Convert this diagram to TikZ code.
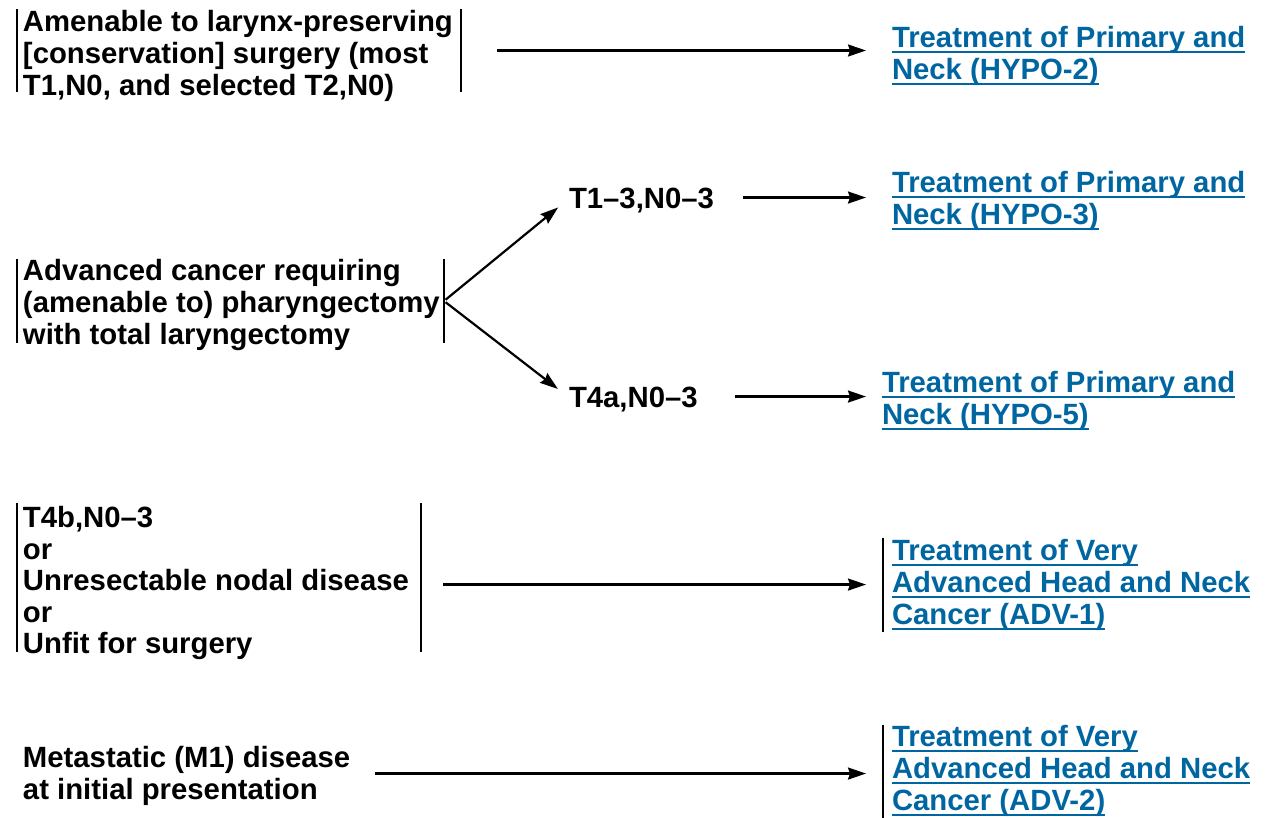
\documentclass[tikz,border=0pt]{standalone}
\usepackage{fontspec}
\setmainfont{Liberation Sans}
\usetikzlibrary{arrows.meta}
\definecolor{linkblue}{RGB}{0,102,161}
\newcommand\mystrut{\rule{0pt}{22pt}}
\newcommand\lnk[1]{\setbox0\hbox{#1}\rlap{\rule[-5.6pt]{\wd0}{1.8pt}}\box0}
\tikzset{
  txt/.style={inner sep=0pt, outer sep=0pt, align=left, anchor=north west, font=\fontsize{29.3}{32}\selectfont\bfseries},
  lab/.style={inner sep=0pt, outer sep=0pt, anchor=base west, font=\fontsize{29.3}{32}\selectfont\bfseries},
  link/.style={txt, text=linkblue},
  brk/.style={inner sep=0pt, outer sep=0pt, anchor=north west},
  bar/.style={line width=2pt},
  arr/.style={line width=2.2pt, -{Stealth[length=18pt,width=12pt,inset=2pt]}},
}
\begin{document}
\begin{tikzpicture}[x=1pt,y=-1pt]
\useasboundingbox (0,0) rectangle (1268,817);

% sources
\node[txt] (x1) at (23,9) {\mystrut Amenable to larynx-preserving\\{[}conservation{]} surgery (most\\T1,N0, and selected T2,N0)};
\node[brk, minimum width=444pt, minimum height=83pt] (s1) at (17,9) {};
\draw[bar] (s1.north west) -- (s1.south west) (s1.north east) -- (s1.south east);

\node[txt] (x2) at (23,258.5) {\mystrut Advanced cancer requiring\\(amenable to) pharyngectomy\\with total laryngectomy};
\node[brk, minimum width=427pt, minimum height=84pt] (s2) at (17,259) {};
\draw[bar] (s2.north west) -- (s2.south west) (s2.north east) -- (s2.south east);

\node[lab] (m1) at (569,208.5) {T1–3,N0–3};
\node[lab] (m2) at (569,407.5) {T4a,N0–3};

\node[txt, font=\fontsize{29.3}{31.5}\selectfont\bfseries] (x3) at (23,505.5) {\mystrut T4b,N0–3\\or\\Unresectable nodal disease\\or\\Unfit for surgery};
\node[brk, minimum width=404pt, minimum height=149pt] (s3) at (17,503) {};
\draw[bar] (s3.north west) -- (s3.south west) (s3.north east) -- (s3.south east);

\node[txt] (x4) at (23,745.5) {\mystrut Metastatic (M1) disease\\at initial presentation};

% targets
\node[link] (t1) at (892,25.5) {\mystrut\lnk{Treatment of Primary and}\\\lnk{Neck (HYPO-2)}};
\node[link] (t2) at (892,170.5) {\mystrut\lnk{Treatment of Primary and}\\\lnk{Neck (HYPO-3)}};
\node[link] (t3) at (882,370.5) {\mystrut\lnk{Treatment of Primary and}\\\lnk{Neck (HYPO-5)}};
\node[link] (t4) at (892,538.5) {\mystrut\lnk{Treatment of Very}\\\lnk{Advanced Head and Neck}\\\lnk{Cancer (ADV-1)}};
\node[link] (t5) at (892,724.5) {\mystrut\lnk{Treatment of Very}\\\lnk{Advanced Head and Neck}\\\lnk{Cancer (ADV-2)}};
\draw[bar] ([shift={(-9pt,1pt)}]t4.north west) -- ([shift={(-9pt,-1pt)}]t4.south west);
\draw[bar] ([shift={(-9pt,0pt)}]t5.north west) -- ([shift={(-9pt,-2pt)}]t5.south west);

% connectors
\draw[arr, shorten <=36pt, shorten >=26pt] (s1.east) -- (s1.east -| t1.west);
\draw[arr, shorten <=2pt, shorten >=14pt] (s2.east) -- ([yshift=2pt]m1.west);
\draw[arr, shorten <=2pt, shorten >=14pt] (s2.east) -- ([yshift=2pt]m2.west);
\draw[arr, shorten <=29pt, shorten >=26pt] ([yshift=3pt]m1.east) -- ([yshift=3pt]m1.east -| t2.west);
\draw[arr, shorten <=37pt, shorten >=16pt] ([yshift=3pt]m2.east) -- ([yshift=3pt]m2.east -| t3.west);
\draw[arr, shorten <=22pt, shorten >=26pt] (s3.east |- t4.west) -- (t4.west);
\draw[arr, shorten <=25pt, shorten >=26pt] ([yshift=2pt]x4.east) -- ([yshift=2pt]x4.east -| t5.west);
\end{tikzpicture}
\end{document}
